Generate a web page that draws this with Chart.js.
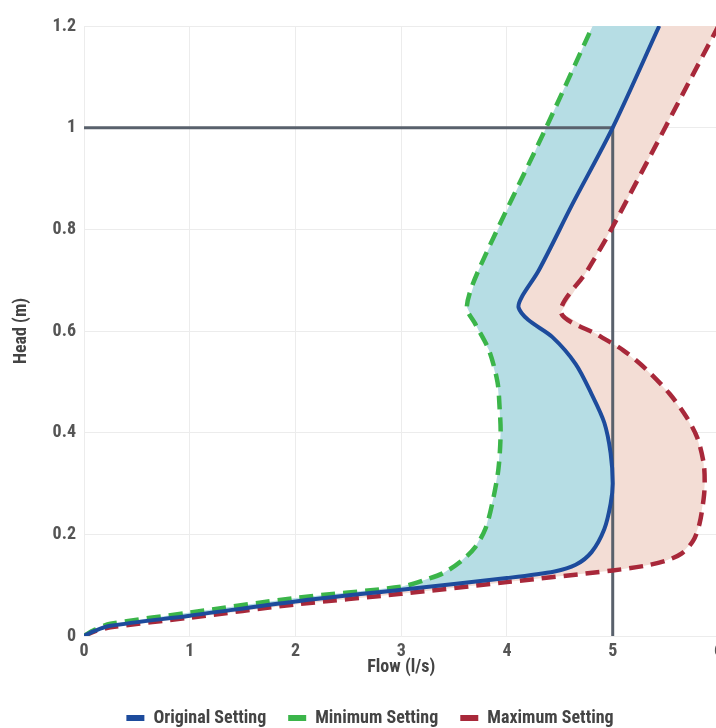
<!DOCTYPE html>
<html>
<head>
<meta charset="utf-8">
<script src="https://cdn.jsdelivr.net/npm/chart.js@4"></script>
<style>
  html, body { margin: 0; padding: 0; background: #fff; overflow: hidden; }
  #wrap { position: absolute; left: 0; top: 0; width: 729px; height: 737px; }
</style>
</head>
<body>
<div id="wrap"><canvas id="pumpChart"></canvas></div>
<script>
// axis ticks
const flowTicks = [0, 1, 2, 3, 4, 5, 6];
const headTicks = [0, 0.2, 0.4, 0.6, 0.8, 1, 1.2];

// Original setting
const origFlow = [0, 0.1, 0.25, 1, 2, 3, 4, 4.45, 4.65, 4.8, 4.92, 4.98, 5.0, 4.98, 4.92, 4.8, 4.65, 4.43, 4.2, 4.11, 4.14, 4.3, 4.62, 5.0, 5.44];
const origHead = [0, 0.01, 0.02, 0.04, 0.068, 0.091, 0.114, 0.127, 0.14, 0.165, 0.21, 0.26, 0.30, 0.36, 0.42, 0.476, 0.535, 0.588, 0.622, 0.646, 0.667, 0.719, 0.85, 1.0, 1.2];

// Minimum setting
const minFlow = [0, 0.1, 0.25, 1, 2, 3, 3.22, 3.4, 3.57, 3.7, 3.8, 3.87, 3.92, 3.94, 3.93, 3.91, 3.83, 3.7, 3.62, 3.73, 4.37, 4.81];
const minHead = [0, 0.012, 0.024, 0.046, 0.075, 0.097, 0.11, 0.124, 0.148, 0.175, 0.213, 0.27, 0.33, 0.40, 0.45, 0.50, 0.562, 0.614, 0.647, 0.719, 1.0, 1.2];

// Maximum setting
const maxFlow = [0, 0.1, 0.25, 1, 2, 3, 4, 5, 5.3, 5.5, 5.65, 5.76, 5.82, 5.86, 5.87, 5.86, 5.8, 5.7, 5.54, 5.32, 5.1, 4.87, 4.51, 4.76, 5.0, 6.0];
const maxHead = [0, 0.009, 0.017, 0.036, 0.062, 0.083, 0.106, 0.129, 0.138, 0.148, 0.162, 0.187, 0.22, 0.27, 0.30, 0.34, 0.39, 0.43, 0.476, 0.524, 0.562, 0.591, 0.637, 0.719, 0.805, 1.2];

// duty point guide lines
const dutyFlow = [0, 5, 5];
const dutyHead = [1, 1, 0];

function toPoints(xs, ys) {
  return xs.map((x, i) => ({ x: x, y: ys[i] }));
}

const origPts = toPoints(origFlow, origHead);
const minPts = toPoints(minFlow, minHead);
const maxPts = toPoints(maxFlow, maxHead);

const BLUE = '#1d4b9c';
const GREEN = '#3bb54a';
const RED = '#a8283a';
const FONT = '"Roboto Condensed", "Liberation Sans Narrow", "DejaVu Sans Condensed", sans-serif';

Chart.defaults.font.family = FONT;

const ctx = document.getElementById('pumpChart').getContext('2d');

const pumpChart = new Chart(ctx, {
  type: 'scatter',
  data: {
    datasets: [
      {
        label: 'Original Setting',
        data: origPts,
        showLine: true,
        borderColor: BLUE,
        backgroundColor: BLUE,
        borderWidth: 4,
        pointRadius: 0,
        tension: 0.3,
        fill: false,
        order: 1
      },
      {
        label: 'Minimum Setting',
        data: minPts,
        showLine: true,
        borderColor: GREEN,
        backgroundColor: GREEN,
        borderWidth: 4.5,
        borderDash: [14, 8],
        pointRadius: 0,
        tension: 0.3,
        fill: false,
        order: 2
      },
      {
        label: 'Maximum Setting',
        data: maxPts,
        showLine: true,
        borderColor: RED,
        backgroundColor: RED,
        borderWidth: 4.5,
        borderDash: [14, 8],
        pointRadius: 0,
        tension: 0.3,
        fill: false,
        order: 2
      },
      // band between minimum and original (straight edges, hidden under the lines)
      {
        label: 'band-min',
        data: minPts.concat(origPts.slice().reverse()),
        showLine: true,
        borderWidth: 0,
        pointRadius: 0,
        tension: 0,
        backgroundColor: '#b6dde4',
        fill: 'shape',
        order: 10
      },
      // band between original and maximum
      {
        label: 'band-max',
        data: origPts.concat(maxPts.slice().reverse()),
        showLine: true,
        borderWidth: 0,
        pointRadius: 0,
        tension: 0,
        backgroundColor: '#f3ddd5',
        fill: 'shape',
        order: 10
      },
      {
        label: 'duty',
        data: toPoints(dutyFlow, dutyHead),
        showLine: true,
        borderColor: '#59616c',
        borderWidth: 3,
        pointRadius: 0,
        fill: false,
        order: 5
      }
    ]
  },
  options: {
    responsive: true,
    maintainAspectRatio: false,
    animation: false,
    layout: {
      padding: { top: 26, left: 11, right: 0, bottom: 0 }
    },
    plugins: {
      tooltip: { enabled: false },
      legend: {
        position: 'bottom',
        labels: {
          color: '#444',
          font: { size: 18, weight: 'bold' },
          boxWidth: 18,
          boxHeight: 6,
          padding: 22,
          generateLabels: (chart) => chart.data.datasets.slice(0, 3).map((ds, i) => ({
            text: ds.label,
            fillStyle: ds.borderColor,
            strokeStyle: ds.borderColor,
            lineWidth: 0,
            lineDash: [],
            datasetIndex: i,
            fontColor: '#444'
          }))
        }
      }
    },
    scales: {
      x: {
        type: 'linear',
        min: 0,
        max: 6,
        afterBuildTicks: (axis) => { axis.ticks = flowTicks.map(v => ({ value: v })); },
        grid: { color: '#ececec', drawTicks: false },
        border: { display: false },
        ticks: {
          color: '#555',
          padding: 6,
          font: { size: 18, weight: 'bold', lineHeight: 1 }
        },
        title: {
          display: true,
          text: 'Flow (l/s)',
          color: '#444',
          padding: { top: -8, bottom: 11 },
          font: { size: 18, weight: 'bold', lineHeight: 1 }
        }
      },
      y: {
        type: 'linear',
        min: 0,
        max: 1.2,
        afterBuildTicks: (axis) => { axis.ticks = headTicks.map(v => ({ value: v })); },
        grid: { color: '#ececec', drawTicks: false },
        border: { display: false },
        ticks: {
          color: '#555',
          padding: 8,
          font: { size: 18, weight: 'bold' },
          callback: (v) => String(v)
        },
        title: {
          display: true,
          text: 'Head (m)',
          color: '#444',
          padding: { top: 0, bottom: 12 },
          font: { size: 18, weight: 'bold' }
        }
      }
    }
  }
});
</script>
</body>
</html>
